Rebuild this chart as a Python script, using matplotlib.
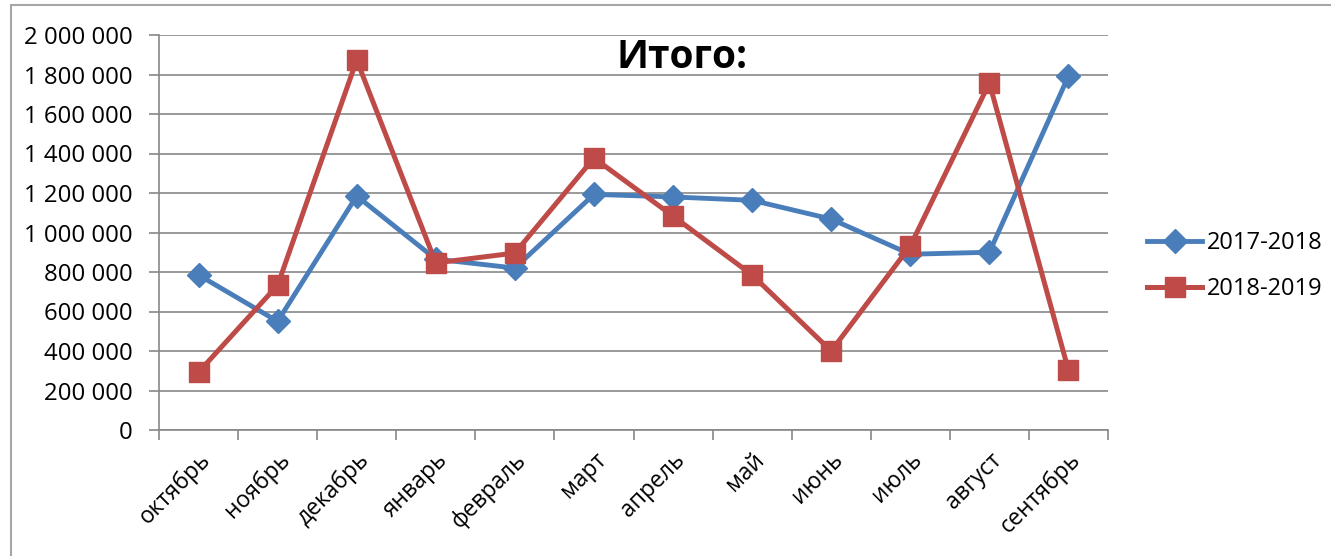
import matplotlib
matplotlib.use("Agg")
import matplotlib.pyplot as plt
from matplotlib.patches import Rectangle
from matplotlib.ticker import FuncFormatter, MultipleLocator

months = ["октябрь", "ноябрь", "декабрь", "январь", "февраль", "март",
          "апрель", "май", "июнь", "июль", "август", "сентябрь"]
s2017 = [785000, 550000, 1185000, 865000, 820000, 1193000,
         1180000, 1163000, 1068000, 890000, 900000, 1792000]
s2018 = [293000, 733000, 1873000, 846000, 896000, 1377000,
         1083000, 785000, 400000, 932000, 1757000, 303000]
series_names = ["2017-2018", "2018-2019"]

plt.rcParams['font.family'] = ['Open Sans', 'DejaVu Sans']

fig = plt.figure(figsize=(13.31, 5.56), dpi=100)
W, H = 1331, 556

# outer frame (cropped at right and bottom)
fig.patches.append(Rectangle((11 / W, -0.1), 1.2, (556 - 5) / H + 0.1,
                             transform=fig.transFigure, fill=False,
                             edgecolor='#a6a6a6', linewidth=1.5))

ax = fig.add_axes([159 / W, (556 - 430) / H, (1108 - 159) / W, (430 - 35) / H])

x = list(range(len(months)))
blue = '#4A7EBB'
red = '#BE4B48'
ax.plot(x, s2017, color=blue, linewidth=3.5, marker='D', markersize=12,
        label=series_names[0], zorder=3)
ax.plot(x, s2018, color=red, linewidth=3.6, marker='s', markersize=15,
        label=series_names[1], zorder=4)

ax.set_xlim(-0.5, len(months) - 0.5)
ax.set_ylim(0, 2000000)
ax.yaxis.set_major_locator(MultipleLocator(200000))
ax.yaxis.set_major_formatter(FuncFormatter(lambda v, p: f"{int(v):,}".replace(",", " ")))
ax.grid(axis='y', color='#888888', linewidth=1.2)
ax.set_axisbelow(True)

for s in ['top', 'right']:
    ax.spines[s].set_visible(False)
for s in ['left', 'bottom']:
    ax.spines[s].set_color('#888888')
    ax.spines[s].set_linewidth(1.2)

ax.set_xticks([i - 0.5 for i in range(len(months) + 1)], minor=False)
ax.set_xticklabels([])
ax.set_xticks(x, minor=True)
ax.set_xticklabels(months, minor=True, rotation=45, ha='right', va='top',
                   rotation_mode='anchor', fontsize=16.5)
ax.tick_params(axis='x', which='minor', length=0, pad=13)
ax.tick_params(axis='x', which='major', length=7, color='#888888', width=1.2)
ax.tick_params(axis='y', length=7, color='#888888', width=1.2, labelsize=17.3, pad=12)

fig.text(682 / W, 1 - 57 / H, "Итого:", ha='center', va='center',
         fontsize=28, fontweight='bold')

ax.legend(loc='center left', bbox_to_anchor=(1138 / W, 1 - 266 / H),
          bbox_transform=fig.transFigure, frameon=False, fontsize=17,
          handlelength=2.3, handletextpad=0.2, labelspacing=0.95,
          borderaxespad=0, borderpad=0.4)

fig.savefig("out.png", dpi=100)
